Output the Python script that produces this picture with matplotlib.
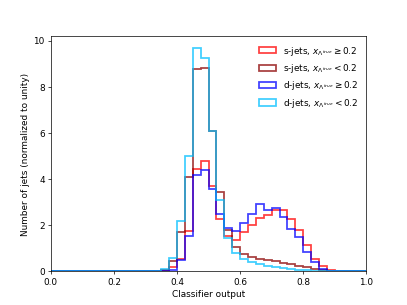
import numpy as np
from matplotlib import pyplot as plt

# 40 bins of width 0.025 on [0, 1]
edges = np.linspace(0.0, 1.0, 41)
centers = 0.5 * (edges[:-1] + edges[1:])

# bin contents (density) for bins 0.35 .. 0.9, zero elsewhere
s_hi = [0.03, 0.17, 0.55, 1.73, 4.43, 4.8, 3.68, 2.28, 1.54, 1.37, 1.7,
        2.0, 2.3, 2.43, 2.68, 2.68, 2.27, 1.8, 1.15, 0.53, 0.22, 0.07]
s_lo = [0.05, 0.43, 1.7, 4.1, 8.75, 8.8, 6.1, 3.42, 1.8, 1.05, 0.75,
        0.62, 0.53, 0.48, 0.43, 0.36, 0.3, 0.24, 0.18, 0.12, 0.06, 0.03]
d_hi = [0.02, 0.07, 0.48, 1.52, 4.18, 4.4, 3.56, 2.5, 1.88, 1.73, 2.09,
        2.48, 2.93, 2.66, 2.73, 2.35, 1.83, 1.5, 0.85, 0.42, 0.12, 0.03]
d_lo = [0.12, 0.6, 2.2, 5.0, 9.7, 9.25, 6.1, 3.1, 1.45, 0.8, 0.52,
        0.4, 0.32, 0.25, 0.2, 0.15, 0.11, 0.08, 0.05, 0.03, 0.02, 0.01]

first_bin = 14  # 0.35


def fill_bins(vals):
    out = np.zeros(40)
    out[first_bin:first_bin + len(vals)] = vals
    return out


series = [
    (s_hi, "red", r"s-jets, $x_{\Lambda^{true}} \geq 0.2$"),
    (s_lo, "darkred", r"s-jets, $x_{\Lambda^{true}} < 0.2$"),
    (d_hi, "blue", r"d-jets, $x_{\Lambda^{true}} \geq 0.2$"),
    (d_lo, "deepskyblue", r"d-jets, $x_{\Lambda^{true}} < 0.2$"),
]

fig, ax = plt.subplots(figsize=(6.4, 4.8), dpi=407 / 6.4)

for vals, col, lab in series:
    ax.hist(centers, bins=edges, weights=fill_bins(vals), histtype="step",
            color=col, linewidth=2, alpha=0.75, label=lab)

ax.set_xlim(0, 1)
ax.set_ylim(bottom=0)
ax.set_xlabel("Classifier output")
ax.set_ylabel("Number of jets (normalized to unity)")
ax.legend(loc="upper right", frameon=False)

fig.savefig("out.png", dpi=407 / 6.4)
